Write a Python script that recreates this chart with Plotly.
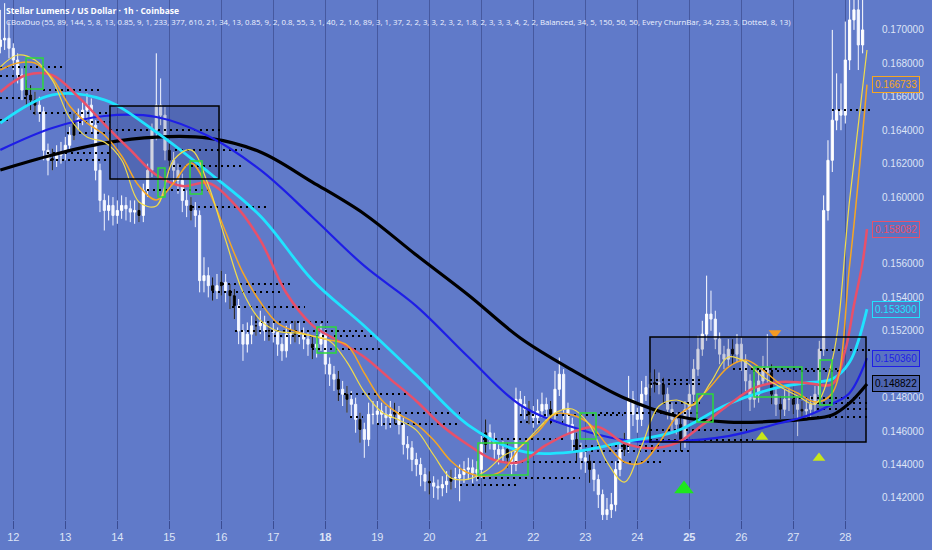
import plotly.graph_objects as go

# ---------------- data ----------------
# 2-hour candles; bar i sits at day 11.75 + i/12 (days of the month)
first_open = 0.1690
closes = [
    .1694, .1695, .1689, .1682, .1673, .1664, .1661, .1658, .1655, .1651,
    .1628, .1622, .1623, .1625, .1627, .1631, .1637, .1645, .1647, .1652,
    .1655, .1643, .1616, .1598, .1592, .1595, .1589, .1592, .1595, .1593,
    .1591, .1592, .1589, .1604, .1616, .1640, .1655, .1649, .1628, .1622,
    .1616, .1610, .1598, .1595, .1592, .1589, .1550, .1553, .1547, .1544,
    .1547, .1549, .1544, .1541, .1535, .1520, .1512, .1518, .1523, .1523,
    .1525, .1520, .1520, .1519, .1512, .1508, .1518, .1518, .1519, .1518,
    .1515, .1512, .1510, .1512, .1518, .1500, .1494, .1491, .1485, .1482,
    .1479, .1476, .1467, .1461, .1455, .1470, .1470, .1472, .1470, .1468,
    .1470, .1471, .1464, .1452, .1450, .1443, .1440, .1434, .1430, .1429,
    .1427, .1426, .1428, .1430, .1432, .1432, .1434, .1437, .1438, .1435,
    .1437, .1452, .1459, .1455, .1449, .1446, .1449, .1444, .1440, .1479,
    .1476, .1473, .1470, .1468, .1472, .1476, .1473, .1470, .1485, .1494,
    .1473, .1464, .1455, .1448, .1444, .1442, .1437, .1431, .1422, .1410,
    .1413, .1416, .1437, .1449, .1452, .1479, .1470, .1467, .1482, .1486,
    .1488, .1489, .1488, .1482, .1473, .1467, .1464, .1455, .1473, .1482,
    .1497, .1509, .1518, .1530, .1527, .1515, .1506, .1503, .1509, .1506,
    .1512, .1502, .1490, .1479, .1482, .1490, .1498, .1495, .1482, .1476,
    .1473, .1479, .1479, .1476, .1473, .1472, .1473, .1476, .1482, .1509,
    .1592, .1622, .1646, .1652, .1649, .1682, .1706, .1712, .1691, .1700,
]
highs = [
    .1712, .1716, .1705, .1692, .1686, .1677, .1670, .1667, .1663, .1660,
    .1654, .1632, .1629, .1631, .1633, .1636, .1642, .1650, .1653, .1658,
    .1662, .1659, .1646, .1620, .1602, .1601, .1600, .1598, .1601, .1600,
    .1598, .1598, .1597, .1608, .1620, .1644, .1686, .1671, .1654, .1632,
    .1627, .1620, .1614, .1604, .1600, .1597, .1592, .1564, .1558, .1552,
    .1554, .1556, .1554, .1548, .1545, .1539, .1524, .1525, .1529, .1530,
    .1532, .1529, .1526, .1526, .1522, .1516, .1523, .1524, .1526, .1525,
    .1522, .1519, .1517, .1518, .1524, .1521, .1504, .1499, .1496, .1490,
    .1487, .1484, .1480, .1471, .1465, .1477, .1478, .1478, .1477, .1475,
    .1478, .1477, .1475, .1468, .1457, .1454, .1447, .1444, .1438, .1436,
    .1433, .1431, .1433, .1436, .1437, .1438, .1440, .1442, .1444, .1443,
    .1442, .1457, .1467, .1464, .1459, .1453, .1454, .1453, .1448, .1486,
    .1484, .1481, .1478, .1475, .1479, .1483, .1480, .1478, .1496, .1504,
    .1497, .1477, .1468, .1459, .1453, .1449, .1446, .1441, .1434, .1425,
    .1420, .1423, .1442, .1455, .1459, .1493, .1484, .1474, .1490, .1493,
    .1495, .1497, .1495, .1492, .1486, .1477, .1471, .1468, .1478, .1488,
    .1503, .1517, .1526, .1553, .1544, .1532, .1519, .1511, .1515, .1515,
    .1518, .1516, .1506, .1494, .1489, .1498, .1505, .1518, .1500, .1486,
    .1481, .1485, .1486, .1484, .1480, .1478, .1479, .1481, .1487, .1514,
    .1601, .1634, .1700, .1674, .1668, .1705, .1730, .1730, .1730, .1718,
]
lows = [
    .1686, .1688, .1683, .1676, .1668, .1658, .1655, .1652, .1649, .1645,
    .1622, .1613, .1616, .1618, .1620, .1622, .1627, .1634, .1640, .1643,
    .1646, .1638, .1610, .1591, .1580, .1586, .1583, .1584, .1587, .1586,
    .1585, .1584, .1585, .1585, .1600, .1612, .1634, .1643, .1622, .1615,
    .1608, .1602, .1591, .1588, .1586, .1582, .1543, .1543, .1540, .1538,
    .1539, .1541, .1537, .1533, .1527, .1512, .1502, .1507, .1512, .1517,
    .1518, .1514, .1514, .1513, .1505, .1502, .1504, .1512, .1513, .1512,
    .1509, .1505, .1503, .1504, .1508, .1494, .1487, .1484, .1478, .1475,
    .1471, .1469, .1459, .1453, .1444, .1451, .1464, .1464, .1463, .1461,
    .1462, .1464, .1458, .1446, .1443, .1436, .1433, .1427, .1424, .1422,
    .1420, .1419, .1421, .1423, .1425, .1426, .1418, .1429, .1431, .1429,
    .1430, .1432, .1447, .1449, .1443, .1440, .1441, .1438, .1434, .1436,
    .1470, .1467, .1464, .1462, .1464, .1468, .1467, .1464, .1467, .1481,
    .1467, .1458, .1448, .1442, .1437, .1435, .1429, .1424, .1414, .1403,
    .1405, .1408, .1412, .1433, .1445, .1447, .1463, .1459, .1463, .1478,
    .1481, .1483, .1482, .1476, .1467, .1460, .1458, .1448, .1450, .1468,
    .1477, .1493, .1505, .1514, .1520, .1509, .1500, .1497, .1499, .1500,
    .1501, .1496, .1484, .1472, .1474, .1477, .1487, .1489, .1476, .1469,
    .1467, .1469, .1472, .1470, .1457, .1466, .1467, .1468, .1471, .1478,
    .1505, .1586, .1615, .1640, .1640, .1644, .1676, .1700, .1676, .1686,
]
churn_bars = [6, 7, 8, 12, 17, 32, 39, 44, 49, 51, 53, 54, 59, 62, 68, 72, 78, 80,
              83, 91, 99, 104, 112, 117, 122, 127, 133, 136, 144, 151, 153, 157,
              169, 178, 180, 183, 185]

# moving averages, sampled at bar indices
slow_idx = [0, 12, 24, 36, 48, 60, 72, 84, 96, 108, 120, 132, 144, 156, 168, 180, 186, 192, 196, 200]
ma_black = [.16162, .16252, .16323, .16359, .16353, .16270, .16090, .15899, .15653, .15414,
            .15157, .14965, .14798, .14690, .14654, .14660, .14672, .14696, .14768, .14882]
ma_blue = [.16282, .16413, .16485, .16479, .16365, .16162, .15881, .15588, .15348, .15043,
           .14756, .14624, .14546, .14540, .14570, .14648, .14690, .14762, .14828, .15036]
ma_cyan = [.16443, .16611, .16581, .16389, .16150, .15887, .15504, .15229, .14935, .14636,
           .14481, .14475, .14535, .14600, .14762, .14864, .14888, .14911, .15013, .15330]
red_idx = list(range(0, 193, 6)) + [195, 197, 199, 200]
ma_red = [.16629, .16730, .16730, .16599, .16437, .16282, .16132, .16066, .16084, .15958,
          .15743, .15426, .15234, .15139, .15043, .14911, .14780, .14630, .14517, .14427,
          .14415, .14517, .14594, .14624, .14528, .14498, .14528, .14636, .14756, .14858,
          .14894, .14888, .14882, .15085, .15354, .15611, .15808]
fast_idx = list(range(0, 201, 4))
ma_orange = [.16760, .16802, .16802, .16712, .16545, .16443, .16371, .16246, .16066, .15983,
             .16084, .16204, .16042, .15791, .15546, .15372, .15246, .15198, .15169, .15145,
             .15115, .14947, .14786, .14702, .14642, .14546, .14421, .14349, .14331, .14367,
             .14505, .14594, .14702, .14696, .14642, .14517, .14415, .14409, .14528, .14684,
             .14762, .14869, .14983, .15025, .14965, .14881, .14828, .14774, .14828, .15593, .16673]
ma_yellow = [.16778, .16850, .16820, .16700, .16473, .16359, .16329, .16222, .15971, .15947,
             .16222, .16282, .16072, .15743, .15432, .15264, .15198, .15187, .15169, .15139,
             .15013, .14834, .14714, .14666, .14606, .14457, .14319, .14313, .14361, .14451,
             .14505, .14612, .14708, .14732, .14636, .14415, .14295, .14511, .14750, .14786,
             .14756, .14893, .15043, .15013, .14923, .14864, .14810, .14762, .15025, .15983, .16880]

# churn dotted levels: start day, end day, price
dot_start = [11.744, 11.744, 12.571, 11.744, 12.379, 11.744, 13.148, 13.032, 13.859, 12.648,
             12.706, 15.109, 15.071, 14.571, 15.436, 16.013, 15.821, 16.206, 16.648, 16.263,
             16.898, 17.744, 18.244, 19.302, 18.475, 18.994, 21.033, 21.417, 20.917, 20.590,
             21.744, 21.744, 22.763, 22.763, 24.244, 24.244, 24.494, 23.283, 25.840, 26.225,
             26.994, 27.456, 27.456, 27.456, 24.244, 24.244, 27.513, 27.744]
dot_end = [12.936, 12.129, 13.667, 12.263, 13.859, 11.936, 13.859, 13.859, 15.975, 13.859,
           13.859, 16.398, 16.417, 15.840, 16.879, 17.379, 17.167, 17.609, 18.052, 18.725,
           18.917, 19.109, 19.629, 20.590, 18.725, 20.590, 22.648, 24.494, 22.898, 21.744,
           23.725, 22.571, 24.494, 25.013, 25.206, 25.206, 25.206, 25.206, 27.898, 27.898,
           28.283, 28.475, 28.475, 28.475, 26.110, 26.225, 28.475, 28.475]
dot_price = [.16778, .16724, .16641, .16593, .16503, .16461, .16449, .16383, .16401, .16264,
             .16222, .16282, .16186, .16042, .15941, .15480, .15432, .15342, .15252, .15199,
             .15169, .15091, .14822, .14708, .14684, .14642, .14552, .14415, .14319, .14277,
             .14696, .14654, .14511, .14481, .14905, .14882, .14768, .14708, .14971, .14959,
             .14798, .14768, .14732, .14684, .14606, .14546, .15085, .16521]

# green churn boxes: day0, day1, price low, price high
gbox_d0 = [12.244, 14.782, 15.398, 17.840, 20.936, 22.898, 25.148, 26.244, 27.513]
gbox_d1 = [12.571, 14.917, 15.629, 18.206, 21.898, 23.206, 25.456, 27.167, 27.744]
gbox_lo = [.16647, .16000, .16018, .15067, .14337, .14552, .14654, .14804, .14756]
gbox_hi = [.16832, .16174, .16216, .15223, .14528, .14708, .14822, .14983, .15025]

# black consolidation boxes
bbox_d0 = [13.859, 24.244]
bbox_d1 = [15.956, 28.398]
bbox_lo = [.16108, .14535]
bbox_hi = [.16545, .15163]

# signals
sig_big_up = ([24.898], [.14253])
sig_up = ([26.398, 27.494], [.14565, .14439])
sig_down = ([26.648], [.15187])

# last values shown on the price scale
last_vals = [0.166733, 0.158082, 0.153300, 0.150360, 0.148822]
last_cols = ["#f5a623", "#e8506a", "#1fe3ff", "#1e1ee6", "#000000"]

day_ticks = list(range(12, 29))
price_ticks = [0.142, 0.144, 0.146, 0.148, 0.150, 0.152, 0.154, 0.156,
               0.158, 0.160, 0.162, 0.164, 0.166, 0.168, 0.170]
hidden_price_ticks = [0.150, 0.158]   # covered by the last-value labels

# ---------------- figure ----------------
BG = "#607ac9"
GRID = "#46599f"
FONT = "Liberation Sans"

def bx(i):
    return 11.75 + i / 12.0

bar_x = [bx(i) for i in range(len(closes))]
opens = [first_open] + closes[:-1]

fig = go.Figure()

# black box fills (behind candles)
for d0, d1, lo, hi in zip(bbox_d0, bbox_d1, bbox_lo, bbox_hi):
    fig.add_trace(go.Scatter(x=[d0, d1, d1, d0, d0], y=[lo, lo, hi, hi, lo], mode="lines",
                             fill="toself", fillcolor="rgba(25,35,100,0.20)",
                             line=dict(width=0), hoverinfo="skip"))

fig.add_trace(go.Candlestick(
    x=bar_x, open=opens, high=highs, low=lows, close=closes,
    increasing=dict(line=dict(color="#ffffff", width=1), fillcolor="#ffffff"),
    decreasing=dict(line=dict(color="#f3f6ff", width=1), fillcolor="#f3f6ff"),
    whiskerwidth=0, hoverinfo="skip"))

fig.add_trace(go.Candlestick(
    x=[bar_x[i] for i in churn_bars], open=[opens[i] for i in churn_bars],
    high=[highs[i] for i in churn_bars], low=[lows[i] for i in churn_bars],
    close=[closes[i] for i in churn_bars],
    increasing=dict(line=dict(color="#000000", width=1), fillcolor="#000000"),
    decreasing=dict(line=dict(color="#000000", width=1), fillcolor="#000000"),
    whiskerwidth=0, hoverinfo="skip"))

# dotted churn levels
dx, dy = [], []
for s, e, p in zip(dot_start, dot_end, dot_price):
    dx += [s, e, None]
    dy += [p, p, None]
fig.add_trace(go.Scatter(x=dx, y=dy, mode="lines", connectgaps=False,
                         line=dict(color="#000000", width=2, dash="2px,4px"), hoverinfo="skip"))

def ma(idx, vals, color, width):
    fig.add_trace(go.Scatter(x=[bx(i) for i in idx], y=vals, mode="lines",
                             line=dict(color=color, width=width, shape="spline", smoothing=1.0),
                             hoverinfo="skip"))

ma(slow_idx, ma_black, "#000000", 3.2)
ma(slow_idx, ma_blue, "#1e1ee6", 2.2)
ma(slow_idx, ma_cyan, "#1fe3ff", 2.8)
ma(red_idx, ma_red, "#e8506a", 2.5)
ma(fast_idx, ma_orange, "#f5a623", 1.5)
ma(fast_idx, ma_yellow, "#f2dc4a", 1.2)

# signals
fig.add_trace(go.Scatter(x=sig_big_up[0], y=sig_big_up[1], mode="markers",
                         marker=dict(symbol="triangle-up", size=17, color="#1ee61e"), hoverinfo="skip"))
fig.add_trace(go.Scatter(x=sig_up[0], y=sig_up[1], mode="markers",
                         marker=dict(symbol="triangle-up", size=11, color="#c8e61a"), hoverinfo="skip"))
fig.add_trace(go.Scatter(x=sig_down[0], y=sig_down[1], mode="markers",
                         marker=dict(symbol="triangle-down", size=11, color="#f59a23"), hoverinfo="skip"))

shapes = []
for d0, d1, lo, hi in zip(gbox_d0, gbox_d1, gbox_lo, gbox_hi):
    shapes.append(dict(type="rect", xref="x", yref="y", x0=d0, x1=d1, y0=lo, y1=hi,
                       line=dict(color="#2bd93b", width=1.5), fillcolor="rgba(0,0,0,0)", layer="above"))
for d0, d1, lo, hi in zip(bbox_d0, bbox_d1, bbox_lo, bbox_hi):
    shapes.append(dict(type="rect", xref="x", yref="y", x0=d0, x1=d1, y0=lo, y1=hi,
                       line=dict(color="#000000", width=1.5), fillcolor="rgba(0,0,0,0)", layer="above"))

annotations = [
    dict(text="<b>Stellar Lumens / US Dollar · 1h · Coinbase</b>", xref="paper", yref="paper",
         x=0, y=1, xanchor="left", yanchor="top", xshift=4, yshift=-3, showarrow=False,
         font=dict(family="Open Sans", size=8.5, color="#ffffff")),
    dict(text="CBoxDuo (55, 89, 144, 5, 8, 13, 0.85, 9, 1, 233, 377, 610, 21, 34, 13, 0.85, 9, 2, 0.8, "
              "55, 3, 1, 40, 2, 1.6, 89, 3, 1, 37, 2, 2, 3, 3, 2, 3, 2, 1.8, 2, 3, 3, 3, 4, 2, 2, "
              "Balanced, 34, 5, 150, 50, 50, Every ChurnBar, 34, 233, 3, Dotted, 8, 13)",
         xref="paper", yref="paper", x=0, y=1, xanchor="left", yanchor="top", xshift=4, yshift=-15,
         showarrow=False, font=dict(family="Open Sans", size=7.8, color="#eef2ff")),
]
for v, c in zip(last_vals, last_cols):
    annotations.append(dict(text=f"{v:.6f}", xref="paper", yref="y", x=1, y=v, xanchor="left",
                            yanchor="middle", xshift=2, showarrow=False,
                            font=dict(family=FONT, size=10, color=c),
                            bgcolor="#5a73c2" if c != "#000000" else "#4d64b0",
                            bordercolor=c, borderwidth=1, borderpad=2))

fig.update_layout(
    width=932, height=550,
    margin=dict(l=0, r=62, t=0, b=30),
    paper_bgcolor=BG, plot_bgcolor=BG,
    showlegend=False,
    shapes=shapes,
    annotations=annotations,
    xaxis=dict(range=[11.744, 28.475], tickvals=day_ticks,
               ticktext=[f"<b>{d}</b>" if d in (18, 25) else str(d) for d in day_ticks],
               showgrid=True, gridcolor=GRID, gridwidth=1, zeroline=False,
               ticks="outside", ticklen=8, tickcolor="#3a4c92", ticklabelstandoff=-1,
               tickfont=dict(family=FONT, size=11, color="#dde4f6"),
               rangeslider=dict(visible=False), showline=False, fixedrange=True),
    yaxis=dict(side="right", range=[0.14068, 0.17179], tickvals=price_ticks,
               ticktext=["" if v in hidden_price_ticks else f"{v:.6f}" for v in price_ticks],
               showgrid=False, zeroline=False,
               ticks="", ticklabelstandoff=11,
               tickfont=dict(family=FONT, size=10, color="#dde4f6"), fixedrange=True),
)

fig.write_html("out.html", config={"displayModeBar": False},
               post_script="document.body.style.margin='0px';document.body.style.background='" + BG + "';")
